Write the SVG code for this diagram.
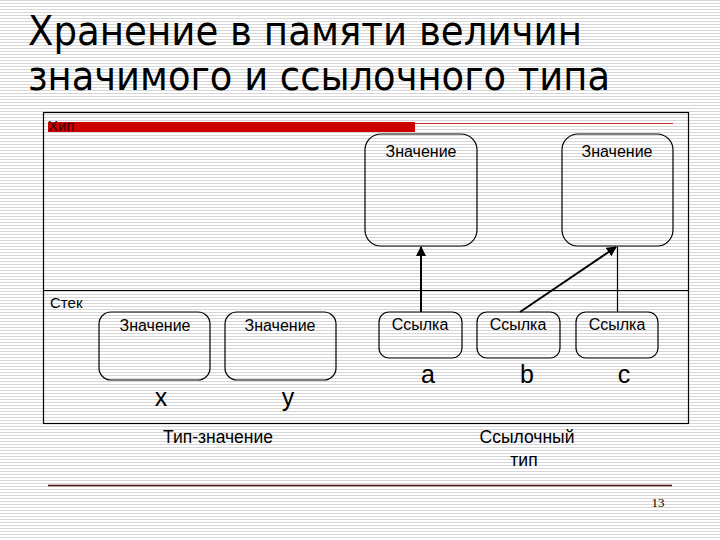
<svg xmlns="http://www.w3.org/2000/svg" width="720" height="540" viewBox="0 0 720 540">
  <defs>
    <pattern id="stripes" width="3" height="3" patternUnits="userSpaceOnUse">
      <rect width="3" height="3" fill="#ffffff"/>
      <rect width="3" height="1" fill="#d6d6d6"/>
    </pattern>
    <marker id="arrow" viewBox="0 0 10 10" refX="9" refY="5" markerWidth="5" markerHeight="5" orient="auto" markerUnits="strokeWidth">
      <path d="M0,0 L10,5 L0,10 z" fill="#000"/>
    </marker>
    <style>
      .title { font-family: "DejaVu Sans", sans-serif; font-size: 40px; fill: #000; }
      .box { fill: none; stroke: #000; stroke-width: 1.2; }
      .lbl { font-family: "Liberation Sans", Arial, sans-serif; font-size: 16px; fill: #000; text-anchor: middle; }
      .var { font-family: "Liberation Sans", Arial, sans-serif; font-size: 25px; fill: #000; text-anchor: middle; }
      .cap { font-family: "Liberation Sans", Arial, sans-serif; font-size: 17.5px; fill: #000; text-anchor: middle; }
      .area { font-family: "Liberation Sans", Arial, sans-serif; font-size: 15px; fill: #000; }
      .conn { stroke: #000; fill: none; }
    </style>
  </defs>
  <rect width="720" height="540" fill="url(#stripes)"/>

  <g id="title">
    <text class="title" x="28" y="45" textLength="554" lengthAdjust="spacingAndGlyphs">Хранение в памяти величин</text>
    <text class="title" x="28" y="90" textLength="582" lengthAdjust="spacingAndGlyphs">значимого и ссылочного типа</text>
  </g>

  <g id="frame">
    <rect x="43.5" y="112.5" width="645" height="311" fill="none" stroke="#000" stroke-width="1.2"/>
    <line x1="43" y1="290.5" x2="689" y2="290.5" stroke="#000" stroke-width="1.2"/>
  </g>

  <g id="heap-label">
    <line x1="48" y1="123.5" x2="673" y2="123.5" stroke="#d03030" stroke-width="1.2"/>
    <rect x="48" y="122" width="367" height="10" fill="#cc0000"/>
    <text class="area" x="48" y="131" style="fill:#3a0000">Хип</text>
  </g>

  <g id="heap-value-1">
    <rect class="box" x="365" y="134" width="112" height="112" rx="16"/>
    <text class="lbl" x="421" y="157">Значение</text>
  </g>
  <g id="heap-value-2">
    <rect class="box" x="562" y="134" width="111" height="112" rx="16"/>
    <text class="lbl" x="617" y="157">Значение</text>
  </g>

  <g id="stack-label">
    <text class="area" x="50" y="308">Стек</text>
  </g>

  <g id="stack-x">
    <rect class="box" x="99" y="312" width="111" height="68" rx="12"/>
    <text class="lbl" x="155" y="331">Значение</text>
    <text class="var" x="161" y="406">x</text>
  </g>
  <g id="stack-y">
    <rect class="box" x="225" y="312" width="111" height="68" rx="12"/>
    <text class="lbl" x="280" y="331">Значение</text>
    <text class="var" x="288" y="406">y</text>
  </g>

  <g id="stack-a">
    <rect class="box" x="379" y="312" width="83" height="46" rx="10"/>
    <text class="lbl" x="420" y="330">Ссылка</text>
    <text class="var" x="428" y="383">a</text>
  </g>
  <g id="stack-b">
    <rect class="box" x="477" y="312" width="83" height="46" rx="10"/>
    <text class="lbl" x="518" y="330">Ссылка</text>
    <text class="var" x="527" y="383">b</text>
  </g>
  <g id="stack-c">
    <rect class="box" x="576" y="312" width="82" height="46" rx="10"/>
    <text class="lbl" x="617" y="330">Ссылка</text>
    <text class="var" x="624" y="383">c</text>
  </g>

  <g id="captions">
    <text class="cap" x="218" y="443">Тип-значение</text>
    <text class="cap" x="527" y="443">Ссылочный</text>
    <text class="cap" x="524" y="466">тип</text>
  </g>

  <g id="connectors">
    <line class="conn" x1="421" y1="312" x2="421" y2="247" stroke-width="2" marker-end="url(#arrow)"/>
    <line class="conn" x1="520" y1="312" x2="616" y2="247" stroke-width="2" marker-end="url(#arrow)"/>
    <line class="conn" x1="617.5" y1="312" x2="617.5" y2="247" stroke-width="1.2"/>
  </g>

  <g id="footer">
    <line x1="48" y1="485.5" x2="672" y2="485.5" stroke="#5a1010" stroke-width="1.3"/>
    <text x="658" y="507" style="font-family:'Liberation Serif', serif; font-size:13px; fill:#000; text-anchor:middle">13</text>
  </g>
</svg>
